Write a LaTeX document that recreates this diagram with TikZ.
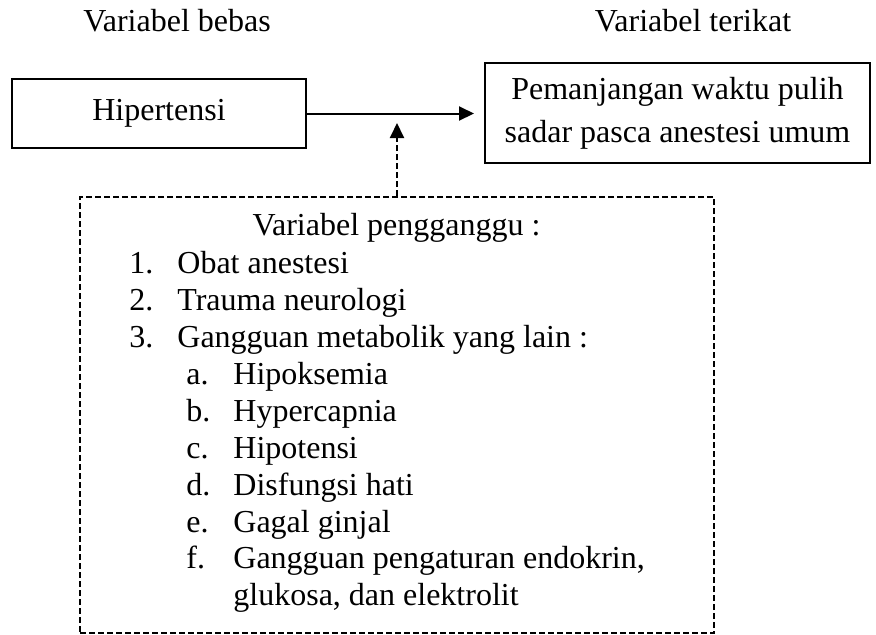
\documentclass[tikz,border=0pt]{standalone}
\usepackage{fontspec}
\setmainfont{Liberation Serif}
\usetikzlibrary{arrows.meta,positioning}

\begin{document}
\begin{tikzpicture}[x=0.5pt, y=-0.5pt,
      txt/.style={font=\fontsize{16}{18.5}\selectfont, inner sep=0pt},
      box/.style={txt, draw, line width=1pt, align=center},
      dashbox/.style={draw, line width=1pt, dash pattern=on 3pt off 1.5pt, inner sep=0pt},
      arr/.style={-{Triangle[length=7.5pt,width=7pt]}, line width=1pt},
      darr/.style={arr, dash pattern=on 3pt off 1.5pt}
    ]
      \useasboundingbox (0,0) rectangle (876,634);

      % judul kolom
      \node[txt, anchor=base] (bebas) at (177,31) {Variabel bebas};
      \node[txt, anchor=base] (terikat) at (693,31) {Variabel terikat};

      % variabel bebas dan terikat
      \node[box, minimum width=147pt, minimum height=34.5pt] (hipertensi) at (159,113.5) {Hipertensi};
      \node[box, minimum width=192.5pt, minimum height=50pt,
            font=\fontsize{16}{21.3}\selectfont] (pulih) at (677.5,113) {
        Pemanjangan waktu pulih\\
        sadar pasca anestesi umum
      };
      \draw[arr, shorten >=5pt] (hipertensi) -- (hipertensi -| pulih.west);

      % variabel pengganggu
      \node[dashbox, minimum width=317pt, minimum height=218pt] (pengganggu) at (397,415) {};
      \node[txt, anchor=base] (judul) at (396.5,235) {Variabel pengganggu :};
      \foreach \no/\isi/\y in {1./Obat anestesi/273, 2./Trauma neurologi/310,
                               3./Gangguan metabolik yang lain :/347} {
        \node[txt, anchor=base west] (no\y) at (129,\y) {\no};
        \node[txt, anchor=base west] (isi\y) at (177,\y) {\isi};
      }
      \foreach \no/\isi/\y in {a./Hipoksemia/384, b./Hypercapnia/421, c./Hipotensi/458,
                               d./Disfungsi hati/495, e./Gagal ginjal/532,
                               f./{Gangguan pengaturan endokrin,}/568} {
        \node[txt, anchor=base west] (sub\y) at (186,\y) {\no};
        \node[txt, anchor=base west] (isisub\y) at (233,\y) {\isi};
      }
      \node[txt, anchor=base west] (lanjut) at (233,605) {glukosa, dan elektrolit};

      \coordinate (ujung) at (397,123);
      \draw[darr] (pengganggu.north) -- (ujung);
    \end{tikzpicture}
\end{document}
